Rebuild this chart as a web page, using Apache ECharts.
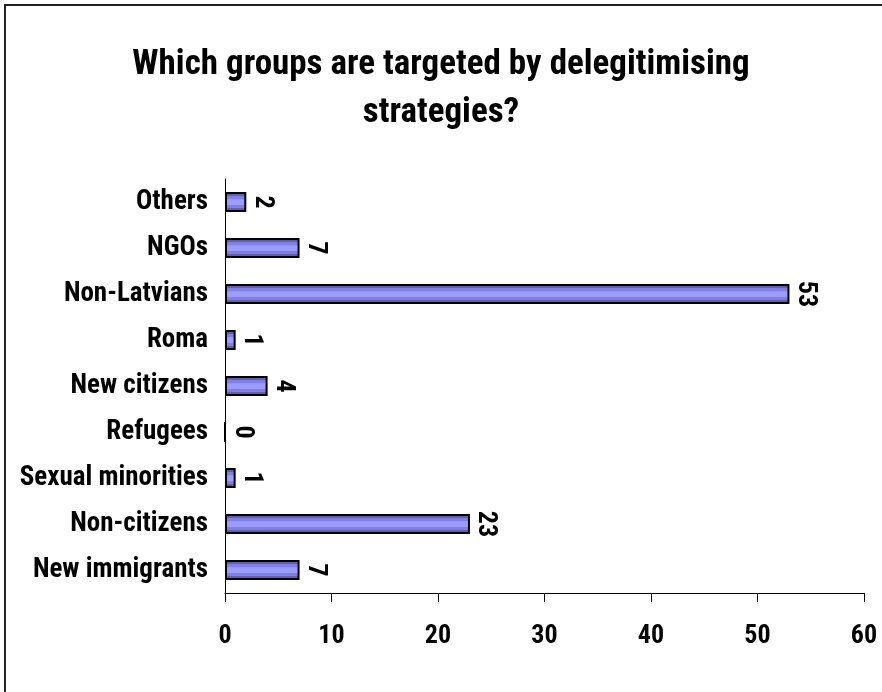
<!DOCTYPE html>
<html>
<head>
<meta charset="utf-8">
<script src="https://cdn.jsdelivr.net/npm/echarts@6/dist/echarts.min.js"></script>
<style>
  html, body { margin: 0; padding: 0; background: #fff; }
  #chart { width: 882px; height: 692px; }
</style>
</head>
<body>
<div id="chart"></div>
<script>
const categories = ['New immigrants', 'Non-citizens', 'Sexual minorities', 'Refugees',
  'New citizens', 'Roma', 'Non-Latvians', 'NGOs', 'Others'];
const values = [7, 23, 1, 0, 4, 1, 53, 7, 2];
const xTicks = [0, 10, 20, 30, 40, 50, 60];

const font = "'Roboto Condensed', 'Liberation Sans', Arial, sans-serif";

const chart = echarts.init(document.getElementById('chart'), null, { renderer: 'canvas' });

// striped look of the original bars
const barFill = new echarts.graphic.LinearGradient(0, 0, 0, 1, [
  { offset: 0, color: '#6060ae' },
  { offset: 0.18, color: '#6060ae' },
  { offset: 0.2, color: '#8080e4' },
  { offset: 0.36, color: '#8080e4' },
  { offset: 0.38, color: '#9c9cff' },
  { offset: 0.64, color: '#9c9cff' },
  { offset: 0.66, color: '#8080e4' },
  { offset: 0.8, color: '#8080e4' },
  { offset: 0.82, color: '#6060ae' },
  { offset: 1, color: '#6060ae' }
]);

chart.setOption({
  backgroundColor: '#ffffff',
  animation: false,
  title: {
    text: 'Which groups are targeted by delegitimising\nstrategies?',
    left: 'center',
    top: 36,
    textStyle: {
      fontFamily: font,
      fontWeight: 'bold',
      fontSize: 35,
      lineHeight: 48,
      color: '#000'
    }
  },
  graphic: [{
    type: 'rect',
    shape: { x: 5, y: 5, width: 1000, height: 1000 },
    style: { fill: 'none', stroke: '#222', lineWidth: 2 }
  }],
  grid: { left: 225, right: 18, top: 179, bottom: 99, containLabel: false },
  xAxis: {
    type: 'value',
    min: xTicks[0],
    max: xTicks[xTicks.length - 1],
    interval: 10,
    axisLine: { show: true, lineStyle: { color: '#000', width: 1 } },
    axisTick: { show: true, length: 9, lineStyle: { color: '#000' } },
    splitLine: { show: false },
    axisLabel: {
      margin: 30,
      fontFamily: font,
      fontWeight: 'bold',
      fontSize: 26,
      color: '#000'
    }
  },
  yAxis: {
    type: 'category',
    data: categories,
    axisLine: { show: true, lineStyle: { color: '#000', width: 1 } },
    axisTick: { show: false },
    axisLabel: {
      margin: 17,
      fontFamily: font,
      fontWeight: 'bold',
      fontSize: 27,
      color: '#000'
    }
  },
  series: [{
    type: 'bar',
    data: values,
    barWidth: 20,
    itemStyle: {
      color: barFill,
      borderColor: '#000',
      borderWidth: 2
    },
    label: {
      show: true,
      position: 'right',
      rotate: -90,
      distance: 16,
      align: 'center',
      verticalAlign: 'middle',
      fontFamily: font,
      fontWeight: 'bold',
      fontSize: 26,
      color: '#000'
    }
  }]
});
</script>
</body>
</html>
